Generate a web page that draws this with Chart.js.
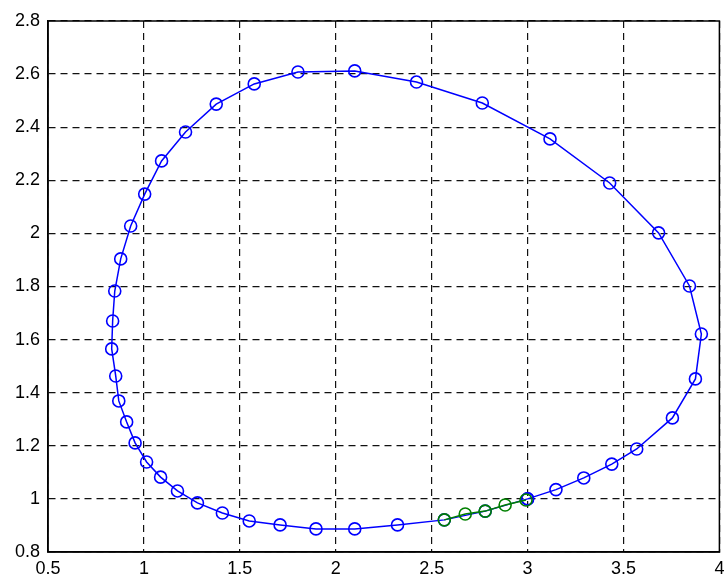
<!DOCTYPE html>
<html>
<head>
<meta charset="utf-8">
<script src="https://cdn.jsdelivr.net/npm/chart.js@4.4.1/dist/chart.umd.min.js"></script>
<style>
  html, body { margin: 0; padding: 0; background: #fff; }
  #wrap { width: 727px; height: 575px; }
</style>
</head>
<body>
<div id="wrap"><canvas id="plot"></canvas></div>
<script>
// loop (blue), going round from (3, 1)
var loopX = [3.0, 3.148, 3.293, 3.439, 3.569, 3.755, 3.875, 3.906, 3.844, 3.683,
             3.428, 3.117, 2.764, 2.421, 2.099, 1.803, 1.575, 1.377, 1.217, 1.092,
             1.004, 0.931, 0.879, 0.848, 0.837, 0.832, 0.853, 0.869, 0.910, 0.954,
             1.014, 1.087, 1.175, 1.279, 1.409, 1.549, 1.710, 1.897, 2.099, 2.322,
             2.566, 2.779, 3.0];
var loopY = [1.0, 1.035, 1.079, 1.131, 1.188, 1.305, 1.452, 1.621, 1.802, 2.002,
             2.190, 2.356, 2.491, 2.570, 2.612, 2.608, 2.563, 2.487, 2.382, 2.273,
             2.148, 2.028, 1.904, 1.783, 1.670, 1.565, 1.463, 1.369, 1.290, 1.211,
             1.139, 1.082, 1.030, 0.985, 0.947, 0.917, 0.902, 0.887, 0.887, 0.902,
             0.921, 0.954, 1.0];
// start segment (green)
var startX = [2.566, 2.675, 2.779, 2.883, 2.992];
var startY = [0.921, 0.943, 0.954, 0.977, 0.996];

var xTicks = [0.5, 1, 1.5, 2, 2.5, 3, 3.5, 4];
var yTicks = [0.8, 1, 1.2, 1.4, 1.6, 1.8, 2, 2.2, 2.4, 2.6, 2.8];

function toPoints(xs, ys) {
    return xs.map(function (x, i) { return { x: x, y: ys[i] }; });
}

// solid box round the plot, like the original
var frame = {
    id: 'frame',
    afterDatasetsDraw: function (chart) {
        var a = chart.chartArea, c = chart.ctx;
        c.save();
        c.strokeStyle = '#000';
        c.lineWidth = 1.5;
        c.setLineDash([]);
        c.strokeRect(a.left, a.top, a.right - a.left, a.bottom - a.top);
        c.restore();
    }
};

var tickFont = { family: 'Liberation Sans, Arial, sans-serif', size: 18 };

new Chart(document.getElementById('plot'), {
    type: 'scatter',
    data: {
        datasets: [{
            data: toPoints(startX, startY),
            showLine: true,
            borderColor: '#008000',
            backgroundColor: 'rgba(0,0,0,0)',
            borderWidth: 1.5,
            pointRadius: 6,
            pointBorderWidth: 1.6,
            pointBorderColor: '#008000',
            pointBackgroundColor: 'rgba(0,0,0,0)'
        }, {
            data: toPoints(loopX, loopY),
            showLine: true,
            borderColor: '#0000ff',
            backgroundColor: 'rgba(0,0,0,0)',
            borderWidth: 1.5,
            pointRadius: 6,
            pointBorderWidth: 1.6,
            pointBorderColor: '#0000ff',
            pointBackgroundColor: 'rgba(0,0,0,0)'
        }]
    },
    options: {
        responsive: true,
        maintainAspectRatio: false,
        animation: false,
        layout: { padding: { top: 21, right: 4, left: 0, bottom: 0 } },
        plugins: { legend: { display: false }, tooltip: { enabled: false } },
        elements: { line: { tension: 0 } },
        scales: {
            x: {
                type: 'linear',
                min: 0.5,
                max: 4,
                afterBuildTicks: function (s) { s.ticks = xTicks.map(function (v) { return { value: v }; }); },
                afterFit: function (s) { s.height = 23; },
                // invisible tick marks push the labels down without widening the right margin
                grid: { color: '#111', lineWidth: 1.2, drawTicks: true, tickLength: 6, tickColor: 'rgba(0,0,0,0)' },
                border: { display: true, color: '#000', width: 1.5, dash: [7, 5] },
                ticks: {
                    color: '#000',
                    padding: 0,
                    maxRotation: 0,
                    autoSkip: false,
                    font: tickFont,
                    callback: function (v) { return String(v); }
                }
            },
            y: {
                type: 'linear',
                min: 0.8,
                max: 2.8,
                afterBuildTicks: function (s) { s.ticks = yTicks.map(function (v) { return { value: v }; }); },
                afterFit: function (s) { s.width = 48; },
                grid: { color: '#111', lineWidth: 1.2, drawTicks: false },
                border: { display: true, color: '#000', width: 1.5, dash: [7, 5] },
                ticks: {
                    color: '#000',
                    padding: 8,
                    autoSkip: false,
                    font: tickFont,
                    callback: function (v) { return String(v); }
                }
            }
        }
    },
    plugins: [frame]
});
</script>
</body>
</html>
